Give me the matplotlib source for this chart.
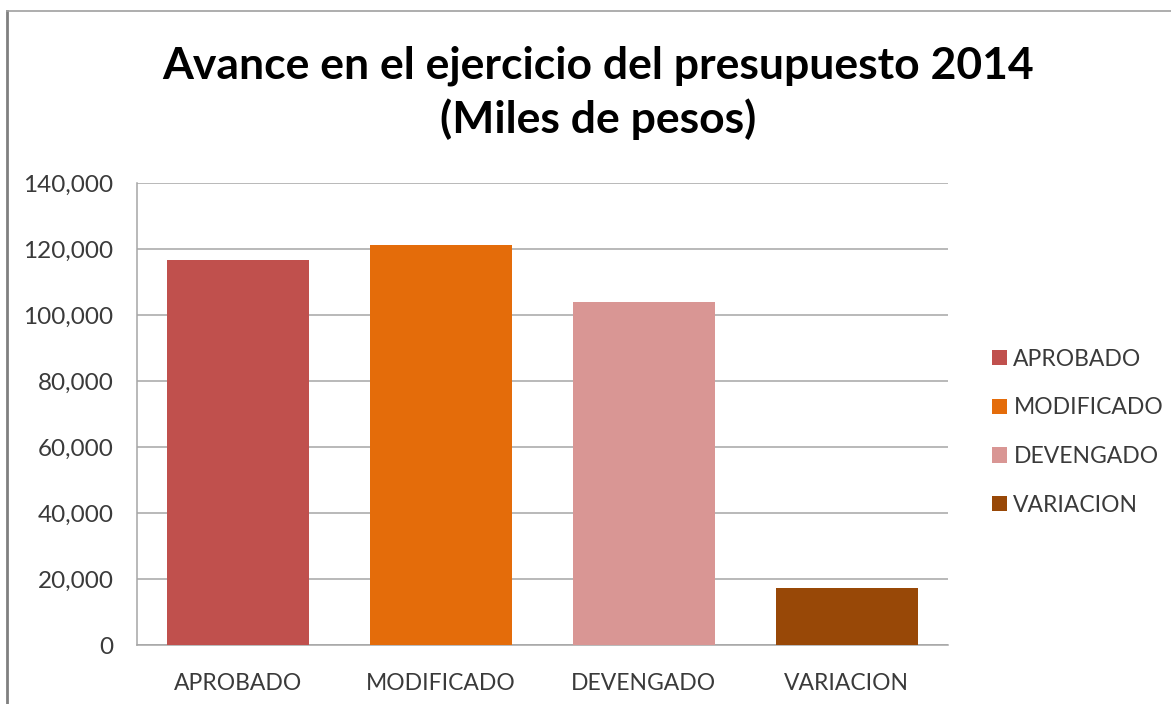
import matplotlib
matplotlib.use("Agg")
import matplotlib.pyplot as plt
from matplotlib.patches import Patch
from matplotlib.lines import Line2D
from matplotlib.ticker import FuncFormatter

categories = ["APROBADO", "MODIFICADO", "DEVENGADO", "VARIACION"]
values = [116800, 121100, 104000, 17200]
colors = ["#C0504D", "#E46C0A", "#D99694", "#984807"]
yticks = [0, 20000, 40000, 60000, 80000, 100000, 120000, 140000]
title = "Avance en el ejercicio del presupuesto 2014\n(Miles de pesos)"

plt.rcParams['font.family'] = ['Lato', 'DejaVu Sans']

fig = plt.figure(figsize=(11.71, 7.04), dpi=100)
ax = fig.add_axes([137/1171, 1-645/704, (948-137)/1171, (645-183)/704])

x = range(len(categories))
ax.bar(x, values, width=0.70, color=colors, zorder=3)
ax.set_xlim(-0.5, len(categories)-0.5)
ax.set_ylim(0, 140000)
ax.set_yticks(yticks)
ax.yaxis.set_major_formatter(FuncFormatter(lambda v, p: f"{int(v):,}"))
ax.set_xticks(list(x))
ax.set_xticklabels(categories)
ax.tick_params(axis='both', colors='#3a3a3a', length=0)
ax.tick_params(axis='y', pad=17, labelsize=17.5)
ax.tick_params(axis='x', pad=20, labelsize=16.5)
ax.grid(axis='y', color='#a6a6a6', linewidth=1.1, zorder=0)
for s in ['top', 'right']:
    ax.spines[s].set_visible(False)
for s in ['left', 'bottom']:
    ax.spines[s].set_color('#a6a6a6')
    ax.spines[s].set_linewidth(1.1)

handles = [Patch(facecolor=c, edgecolor='none') for c in colors]
fig.legend(handles, categories, loc='upper left', bbox_to_anchor=(971/1171, 1-328/704),
           frameon=False, fontsize=16.5, handlelength=0.65, handleheight=0.65,
           handletextpad=0.3, labelspacing=1.21, labelcolor='#3a3a3a')

fig.text(598/1171, 1-93/704, title, ha='center', va='center', fontsize=32,
         fontweight='bold', linespacing=1.35, color='black')

fig.add_artist(Line2D([7/1171, 7/1171], [0, 1-11/704], transform=fig.transFigure,
                      color='#808080', linewidth=2))
fig.add_artist(Line2D([7/1171, 1], [1-11/704, 1-11/704], transform=fig.transFigure,
                      color='#a0a0a0', linewidth=1.2))

fig.savefig("out.png", dpi=100)
